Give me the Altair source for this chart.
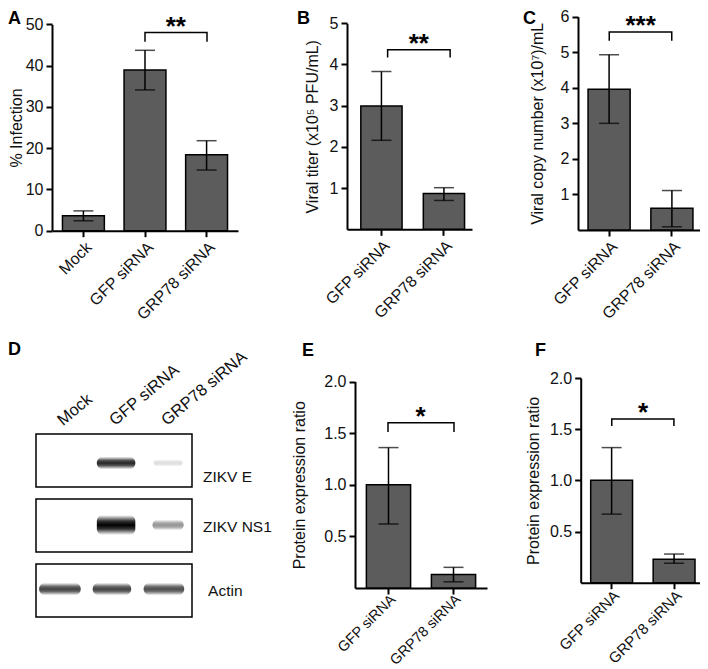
import altair as alt
import pandas as pd

# ---------------- data ----------------
a_cats = ["Mock", "GFP siRNA", "GRP78 siRNA"]
a_mean = [3.6, 38.9, 18.4]
a_lo = [2.4, 34.1, 14.7]
a_hi = [4.8, 43.7, 21.8]
a_bracket = [48.0, 45.8]          # top, leg end
a_stars = "**"

two_cats = ["GFP siRNA", "GRP78 siRNA"]

b_mean = [2.99, 0.87]
b_lo = [2.16, 0.70]
b_hi = [3.83, 1.01]
b_bracket = [4.36, 4.17]
b_stars = "**"

c_mean = [3.96, 0.61]
c_lo = [3.00, 0.09]
c_hi = [4.93, 1.11]
c_bracket = [5.57, 5.32]
c_stars = "***"

e_mean = [1.00, 0.13]
e_lo = [0.62, 0.06]
e_hi = [1.36, 0.20]
e_bracket = [1.60, 1.51]
e_stars = "*"

f_mean = [1.00, 0.23]
f_lo = [0.67, 0.19]
f_hi = [1.32, 0.28]
f_bracket = [1.60, 1.53]
f_stars = "*"

a_ticks = [0, 10, 20, 30, 40, 50]
b_ticks = [1, 2, 3, 4, 5]
c_ticks = [1, 2, 3, 4, 5, 6]
ef_ticks = [0.5, 1.0, 1.5, 2.0]

blot_rows = ["ZIKV E", "ZIKV NS1", "Actin"]
blot_lanes = ["Mock", "GFP siRNA", "GRP78 siRNA"]
blot_intensity = [
    [0.0, 0.85, 0.13],
    [0.0, 1.00, 0.42],
    [0.74, 0.74, 0.70],
]

# ---------------- layout / style ----------------
W, H = 692, 661
FONT = "Liberation Sans"
BAR = "#5c5c5c"
LABEL_FS = 16


def panel(cats, mean, lo, hi, bracket, stars, ydom, yticks, yfmt, ytitle,
          xr, yr, pin, pout, tpad, align=0.5, xlab_fs=16, xlab_pad=2):
    df = pd.DataFrame({"cat": cats, "mean": mean, "lo": lo, "hi": hi})

    def xs():
        return alt.Scale(domain=cats, range=xr, paddingInner=pin, paddingOuter=pout, align=align)

    def ys():
        return alt.Scale(domain=ydom, range=yr, nice=False, zero=True)

    n = len(cats)
    step = (xr[1] - xr[0]) / (n - pin + 2 * pout)
    xax = alt.Axis(orient="bottom", offset=-(H - yr[0]), title=None, labelAngle=-45,
                   labelPadding=xlab_pad, labelFontSize=xlab_fs)
    yax = alt.Axis(orient="left", offset=-xr[0], title=ytitle, values=yticks,
                   format=yfmt, titlePadding=tpad, labelPadding=3)
    base = alt.Chart(df)
    bars = base.mark_bar(color=BAR, stroke="black", strokeWidth=1.5).encode(
        x=alt.X("cat:N", scale=xs(), axis=xax, sort=cats),
        y=alt.Y("mean:Q", scale=ys(), axis=yax),
    )
    err = base.mark_rule(color="black", strokeWidth=1.5).encode(
        x=alt.X("cat:N", scale=xs(), sort=cats, axis=None),
        y=alt.Y("lo:Q", scale=ys(), axis=None), y2="hi:Q",
    )
    caps_df = pd.DataFrame({"cat": cats + cats, "v": lo + hi})
    caps = alt.Chart(caps_df).mark_tick(orient="horizontal", size=20, thickness=1.5,
                                        color="black").encode(
        x=alt.X("cat:N", scale=xs(), sort=cats, axis=None),
        y=alt.Y("v:Q", scale=ys(), axis=None),
    )
    c1, c2 = cats[-2], cats[-1]
    br_df = pd.DataFrame({"cat": [c1, c1, c2, c2],
                          "v": [bracket[1], bracket[0], bracket[0], bracket[1]],
                          "o": [0, 1, 2, 3]})
    br = alt.Chart(br_df).mark_line(color="black", strokeWidth=1.5, strokeJoin="miter").encode(
        x=alt.X("cat:N", scale=xs(), sort=cats, axis=None),
        y=alt.Y("v:Q", scale=ys(), axis=None),
        order="o:Q",
    )
    st_df = pd.DataFrame({"cat": [c1], "v": [bracket[0]], "s": [stars]})
    st = alt.Chart(st_df).mark_text(fontSize=26, fontWeight="bold", baseline="alphabetic",
                                    align="center", dx=step / 2, dy=2, color="black").encode(
        x=alt.X("cat:N", scale=xs(), sort=cats, axis=None),
        y=alt.Y("v:Q", scale=ys(), axis=None),
        text="s:N",
    )
    return [bars, err, caps, br, st]


pA = panel(a_cats, a_mean, a_lo, a_hi, a_bracket, a_stars, [0, 50], a_ticks, "d",
           "% Infection", [44, 230], [222.7, 16.3], 0.32, 0.17, 1)
pB = panel(two_cats, b_mean, b_lo, b_hi, b_bracket, b_stars, [0, 5], b_ticks, "d",
           "Viral titer (x10\u2075 PFU/mL)", [339, 464], [221.3, 15.3], 0.34, 0.17, 9, 0.65)
pC = panel(two_cats, c_mean, c_lo, c_hi, c_bracket, c_stars, [0, 6], c_ticks, "d",
           "Viral copy number (x10\u2077)/mL", [570, 695], [222, 8.7], 0.33, 0.16, 15)
pE = panel(two_cats, e_mean, e_lo, e_hi, e_bracket, e_stars, [0, 2], ef_ticks, ".1f",
           "Protein expression ratio", [347, 479], [580, 373.5], 0.32, 0.175, 16,
           xlab_fs=14.5, xlab_pad=-2)
pF = panel(two_cats, f_mean, f_lo, f_hi, f_bracket, f_stars, [0, 2], ef_ticks, ".1f",
           "Protein expression ratio", [572.7, 697], [574.7, 370], 0.33, 0.16, 8,
           xlab_fs=15, xlab_pad=-1)

# ---------------- western blot (panel D) ----------------
BOX_H = 0.815
band_y_frac = [0.446, 0.40, 0.385]
band_px = [[0, 7, 4], [0, 11, 6], [7, 7, 7]]
band_shift = [0.04, 0.04, -0.04]
band_half = [[0.37, 0.37, 0.28], [0.37, 0.37, 0.30], [0.40, 0.37, 0.39]]
ROW_PX = 65.0


def bx():
    return alt.Scale(domain=[0, 3], range=[28, 184], nice=False, zero=False)


def by():
    return alt.Scale(domain=[0, 2 + BOX_H], range=[426, 609], nice=False, zero=False)


rows = []
for r, rname in enumerate(blot_rows):
    for l, lname in enumerate(blot_lanes):
        inten = blot_intensity[r][l]
        if inten <= 0:
            continue
        cx = l + 0.5 + band_shift[r]
        hw = band_half[r][l]
        cy = r + band_y_frac[r]
        t = band_px[r][l] * 1.8 / ROW_PX
        rows.append({"row": rname, "lane": lname, "x0": cx - hw, "x1": cx + hw,
                     "y0": cy - t / 2, "y1": cy + t / 2, "inten": inten})
bands_df = pd.DataFrame(rows)

grad = alt.LinearGradient(
    gradient="linear",
    stops=[alt.GradientStop(color="white", offset=0),
           alt.GradientStop(color="#333333", offset=0.3),
           alt.GradientStop(color="black", offset=0.5),
           alt.GradientStop(color="#333333", offset=0.7),
           alt.GradientStop(color="white", offset=1)],
    x1=0, x2=0, y1=0, y2=1,
)
bands = alt.Chart(bands_df).mark_rect(fill=grad, cornerRadius=6).encode(
    x=alt.X("x0:Q", scale=bx(), axis=None), x2="x1:Q",
    y=alt.Y("y0:Q", scale=by(), axis=None), y2="y1:Q",
    opacity=alt.Opacity("inten:Q", scale=None, legend=None),
)

box_df = pd.DataFrame({"row": blot_rows,
                       "x0": [0] * 3, "x1": [3] * 3,
                       "y0": [i for i in range(3)],
                       "y1": [i + BOX_H for i in range(3)]})
boxes = alt.Chart(box_df).mark_rect(fillOpacity=0, stroke="black", strokeWidth=1.5).encode(
    x=alt.X("x0:Q", scale=bx(), axis=None), x2="x1:Q",
    y=alt.Y("y0:Q", scale=by(), axis=None), y2="y1:Q",
)

row_label_frac = [0.66, 0.43, 0.415]
row_label_x = [3.21, 3.21, 3.31]
rl_df = pd.DataFrame({"t": blot_rows,
                      "x": row_label_x,
                      "y": [i + f for i, f in enumerate(row_label_frac)]})
row_labels = alt.Chart(rl_df).mark_text(align="left", baseline="middle", fontSize=15.5,
                                        color="#111").encode(
    x=alt.X("x:Q", scale=bx(), axis=None), y=alt.Y("y:Q", scale=by(), axis=None), text="t:N")

ll_df = pd.DataFrame({"t": blot_lanes, "x": [i + 0.52 for i in range(3)], "y": [-0.12] * 3})
lane_labels = alt.Chart(ll_df).mark_text(align="left", baseline="alphabetic", angle=320,
                                         fontSize=16.5, color="#111").encode(
    x=alt.X("x:Q", scale=bx(), axis=None), y=alt.Y("y:Q", scale=by(), axis=None), text="t:N")

pD = [bands, boxes, row_labels, lane_labels]

# ---------------- panel letters ----------------
letters = [("A", 0, 16), ("B", 289, 16), ("C", 515, 16), ("D", 0, 347), ("E", 294, 348), ("F", 527, 348)]
one = pd.DataFrame({"k": [0]})
letter_layers = [
    alt.Chart(one).mark_text(text=t, fontSize=18, fontWeight="bold", align="left",
                             baseline="alphabetic", color="black").encode(
        x=alt.value(lx), y=alt.value(ly))
    for t, lx, ly in letters
]

chart = (
    alt.layer(*pA, *pB, *pC, *pD, *pE, *pF, *letter_layers)
    .resolve_scale(x="independent", y="independent")
    .resolve_axis(x="independent", y="independent")
    .properties(width=W, height=H, padding=0, autosize=alt.AutoSizeParams(type="none"))
    .configure(font=FONT)
    .configure_view(stroke=None)
    .configure_axis(domainColor="black", domainWidth=2, tickColor="black", tickWidth=2,
                    tickSize=6, labelFontSize=LABEL_FS, titleFontSize=16, labelColor="#111",
                    titleColor="#111", titleFontWeight="normal", grid=False,
                    labelFont=FONT, titleFont=FONT)
)

chart.save("out.html", embed_options={"renderer": "svg", "actions": False})
